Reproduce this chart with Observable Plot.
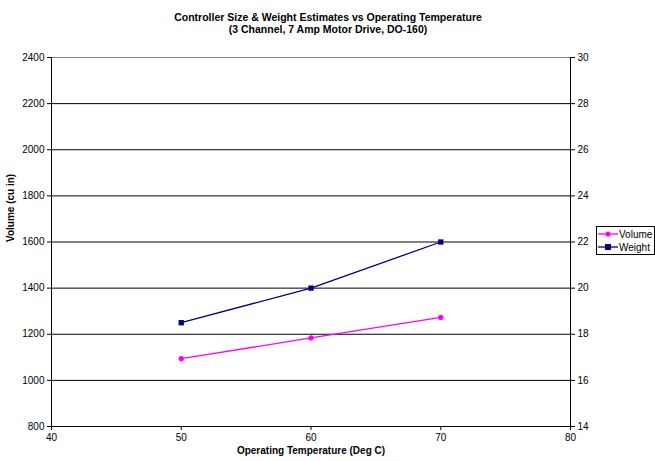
<!DOCTYPE html>
<html><head><meta charset="utf-8">
<script src="https://cdn.jsdelivr.net/npm/d3@7"></script>
<script src="https://cdn.jsdelivr.net/npm/@observablehq/plot@0.6"></script>
<style>
body{margin:0;background:#fff;}
#wrap{position:relative;width:655px;height:461px;font-family:"Liberation Sans",Arial,sans-serif;}
#legend{position:absolute;left:596px;top:226px;width:57px;height:27px;border:1px solid #000;background:#fff;font-size:10px;}
.item{position:absolute;left:1px;height:12px;display:flex;align-items:center;}
.item svg{display:block;}
.item span{margin-left:1px;}
</style></head><body><div id="wrap"></div>
<script>
const temps = [50, 60, 70];
const volume = [1094, 1184, 1273];
const weight = [18.5, 20, 22];
const volumeTicks = [800, 1000, 1200, 1400, 1600, 1800, 2000, 2200, 2400];
const weightTicks = [14, 16, 18, 20, 22, 24, 26, 28, 30];
const xTicks = [40, 50, 60, 70, 80];
const seriesNames = ["Volume", "Weight"];
const seriesColors = ["#FF00FF", "#000080"];
const title = "Controller Size & Weight Estimates vs Operating Temperature";
const subtitle = "(3 Channel, 7 Amp Motor Drive, DO-160)";
const xLabel = "Operating Temperature (Deg C)";
const yLabel = "Volume (cu in)";

// map weight (right axis 14..30) onto volume scale (800..2400)
const w2v = w => 800 + (w - 14) * 100;
const v2w = v => (v - 800) / 100 + 14;
const rows = temps.map((t, i) => ({t, volume: volume[i], weight: weight[i]}));

const font = "'Liberation Sans', Arial, sans-serif";
const plot = Plot.plot({
  width: 655, height: 461,
  marginTop: 57, marginBottom: 35, marginLeft: 51, marginRight: 85,
  style: {fontFamily: font, fontSize: "10px", background: "#fff", color: "#000", overflow: "visible"},
  x: {domain: [40, 80]},
  y: {domain: [800, 2400]},
  marks: [
    Plot.ruleY(volumeTicks.slice(1, -1), {stroke: "#000", strokeWidth: 1}),
    Plot.ruleY([2400], {stroke: "#808080", strokeWidth: 1}),
    Plot.ruleY([800], {stroke: "#000", strokeWidth: 1}),
    Plot.ruleX([40, 80], {stroke: "#000", strokeWidth: 1}),
    Plot.axisY({ticks: volumeTicks, tickFormat: v => String(v), tickSize: 4, tickPadding: 3, label: null}),
    Plot.axisY({anchor: "right", ticks: weightTicks.map(w2v), tickFormat: v => String(v2w(v)), tickSize: 4, tickPadding: 3, label: null}),
    Plot.axisX({ticks: xTicks, tickFormat: v => String(v), tickSize: 4, tickPadding: 3, label: null}),
    Plot.line(rows, {x: "t", y: "volume", stroke: seriesColors[0], strokeWidth: 1.3}),
    Plot.dot(rows, {x: "t", y: "volume", fill: seriesColors[0], r: 2.6, symbol: "circle"}),
    Plot.line(rows, {x: "t", y: d => w2v(d.weight), stroke: seriesColors[1], strokeWidth: 1.3}),
    Plot.dot(rows, {x: "t", y: d => w2v(d.weight), fill: seriesColors[1], r: 3, symbol: "square"}),
    Plot.text([title], {frameAnchor: "top", dx: 17, dy: -44, fontWeight: "bold", fontSize: 10.5}),
    Plot.text([subtitle], {frameAnchor: "top", dx: 17, dy: -32, fontWeight: "bold", fontSize: 10.5}),
    Plot.text([xLabel], {frameAnchor: "bottom", dy: 27, fontWeight: "bold", fontSize: 10}),
    Plot.text([yLabel], {frameAnchor: "left", dx: -41, rotate: -90, fontWeight: "bold", fontSize: 10})
  ]
});
const wrap = document.getElementById("wrap");
wrap.appendChild(plot);

const legend = document.createElement("div");
legend.id = "legend";
seriesNames.forEach((name, i) => {
  const item = document.createElement("div");
  item.className = "item";
  item.style.top = (1 + i * 13) + "px";
  const c = seriesColors[i];
  const marker = i === 0
    ? `<circle cx="10" cy="6" r="2.6" fill="${c}"/>`
    : `<rect x="7" y="3" width="6" height="6" fill="${c}"/>`;
  item.innerHTML = `<svg width="20" height="12"><line x1="0" x2="20" y1="6" y2="6" stroke="${c}" stroke-width="1.3"/>${marker}</svg><span>${name}</span>`;
  legend.appendChild(item);
});
wrap.appendChild(legend);
</script>
</body></html>
